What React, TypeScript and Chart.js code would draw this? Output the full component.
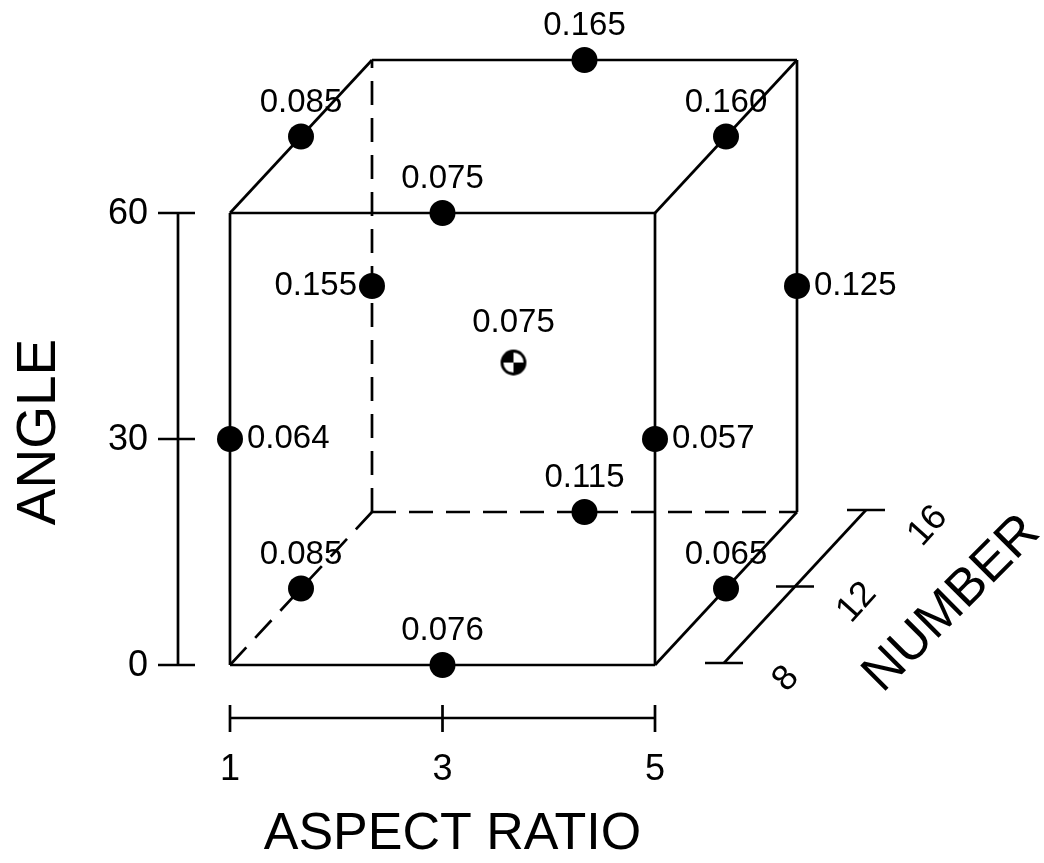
import React, { useEffect, useRef } from "react";
import { Chart, registerables } from "chart.js";

Chart.register(...registerables);

// ---- Axis tick values ----
const aspectRatioTicks = [1, 3, 5];
const angleTicks = [0, 30, 60];
const numberTicks = [8, 12, 16];

// ---- Design points (aspect ratio, angle, number) and measured response ----
const pointAspectRatio = [3, 1, 5, 3, 1, 5, 1, 5, 3, 3, 1, 5];
const pointAngle = [0, 30, 30, 60, 0, 0, 60, 60, 0, 60, 30, 30];
const pointNumber = [8, 8, 8, 8, 12, 12, 12, 12, 16, 16, 16, 16];
const pointResponse = [0.076, 0.064, 0.057, 0.075, 0.085, 0.065, 0.085, 0.16, 0.115, 0.165, 0.155, 0.125];
const labelSide = ["top", "right", "right", "top", "top", "top", "top", "top", "top", "top", "left", "right"];

// ---- Center point ----
const centerAspectRatio = [3];
const centerAngle = [30];
const centerNumber = [12];
const centerResponse = [0.075];

// ---- Axis titles ----
const titleAngle = "ANGLE";
const titleAspect = "ASPECT RATIO";
const titleNumber = "NUMBER";

// ---- Layout (oblique projection) ----
const W = 1044;
const H = 863;
const PX_PER_AR = 106.25;
const PX_PER_DEG = 7.533;
const ORIGIN_PX = 230; // pixel x of aspect ratio 1
const ORIGIN_PY = 665; // pixel y of angle 0
const DEPTH_PX_X = 142;
const DEPTH_PX_Y = 153;
const FONT = '"Liberation Sans", Arial, Helvetica, sans-serif';
const LABEL_SIZE = 33;
const TICK_SIZE = 36;

const X_MIN = aspectRatioTicks[0] - ORIGIN_PX / PX_PER_AR;
const X_MAX = X_MIN + W / PX_PER_AR;
const Y_MAX = angleTicks[0] + ORIGIN_PY / PX_PER_DEG;
const Y_MIN = Y_MAX - H / PX_PER_DEG;

const nMin = numberTicks[0];
const nMax = numberTicks[numberTicks.length - 1];
const arMin = aspectRatioTicks[0];
const arMax = aspectRatioTicks[aspectRatioTicks.length - 1];
const angMin = angleTicks[0];
const angMax = angleTicks[angleTicks.length - 1];

function project(ar: number, ang: number, n: number) {
  const t = (n - nMin) / (nMax - nMin);
  return { x: ar + (t * DEPTH_PX_X) / PX_PER_AR, y: ang + (t * DEPTH_PX_Y) / PX_PER_DEG };
}

function edge(a: number[], b: number[], dashed: boolean) {
  return {
    data: [project(a[0], a[1], a[2]), project(b[0], b[1], b[2])],
    showLine: true,
    borderColor: "#000",
    borderWidth: 2.7,
    borderDash: dashed ? [24, 13] : [],
    pointRadius: 0,
    order: 10,
  };
}

function makeCenterSymbol() {
  const c = document.createElement("canvas");
  c.width = 30;
  c.height = 30;
  const g = c.getContext("2d")!;
  const cx = 15, cy = 15, r = 12;
  g.fillStyle = "#fff";
  g.beginPath();
  g.arc(cx, cy, r, 0, 2 * Math.PI);
  g.fill();
  g.fillStyle = "#000";
  g.beginPath();
  g.moveTo(cx, cy);
  g.arc(cx, cy, r, Math.PI, 1.5 * Math.PI);
  g.closePath();
  g.fill();
  g.beginPath();
  g.moveTo(cx, cy);
  g.arc(cx, cy, r, 0, 0.5 * Math.PI);
  g.closePath();
  g.fill();
  g.lineWidth = 2.8;
  g.strokeStyle = "#000";
  g.beginPath();
  g.arc(cx, cy, r - 0.5, 0, 2 * Math.PI);
  g.stroke();
  return c;
}

const decorPlugin = {
  id: "decor",
  afterDatasetsDraw(chart: any) {
    const { ctx } = chart;
    const xs = chart.scales.x;
    const ys = chart.scales.y;
    const P = (ar: number, ang: number, n: number) => {
      const p = project(ar, ang, n);
      return [xs.getPixelForValue(p.x), ys.getPixelForValue(p.y)];
    };
    const line = (x1: number, y1: number, x2: number, y2: number) => {
      ctx.beginPath();
      ctx.moveTo(x1, y1);
      ctx.lineTo(x2, y2);
      ctx.stroke();
    };
    const text = (s: string, x: number, y: number, size: number, align: string, rot = 0) => {
      ctx.save();
      ctx.translate(x, y);
      ctx.rotate((rot * Math.PI) / 180);
      ctx.font = `${size}px ${FONT}`;
      ctx.textAlign = align;
      ctx.textBaseline = "middle";
      ctx.fillText(s, 0, 0);
      ctx.restore();
    };
    ctx.save();
    ctx.strokeStyle = "#000";
    ctx.fillStyle = "#000";
    ctx.lineWidth = 2.7;

    // Angle axis
    const [fx0, fy0] = P(arMin, angMin, nMin);
    const [, fyTop] = P(arMin, angMax, nMin);
    const axX = fx0 - 52;
    line(axX, fy0, axX, fyTop);
    angleTicks.forEach((a) => {
      const [, py] = P(arMin, a, nMin);
      line(axX - 20, py, axX + 17, py);
      text(String(a), axX - 30, py + 1, TICK_SIZE, "right");
    });
    text(titleAngle, 40, (fy0 + fyTop) / 2 - 7, 55, "center", -90);

    // Aspect ratio axis
    const axY = fy0 + 53;
    const [fxR] = P(arMax, angMin, nMin);
    line(fx0, axY, fxR, axY);
    aspectRatioTicks.forEach((ar) => {
      const [px] = P(ar, angMin, nMin);
      line(px, axY - 13, px, axY + 14);
      text(String(ar), px, axY + 52, TICK_SIZE, "center");
    });
    text(titleAspect, (fx0 + fxR) / 2 + 10, axY + 117, 52, "center");

    // Number axis
    const [b0x, b0y] = P(arMax, angMin, nMin);
    const [b1x, b1y] = P(arMax, angMin, nMax);
    const ox = 69, oy = -2;
    line(b0x + ox, b0y + oy, b1x + ox, b1y + oy);
    numberTicks.forEach((n) => {
      const [px, py] = P(arMax, angMin, n);
      line(px + ox - 19, py + oy, px + ox + 19, py + oy);
      text(String(n), px + ox + 62, py + oy + 16, TICK_SIZE, "center", -48);
    });
    text(titleNumber, 952, 604, 52, "center", -45);

    // Point labels
    const lab = (v: number, px: number, py: number, side: string) => {
      const s = v.toFixed(3);
      if (side === "top") text(s, px, py - 34, LABEL_SIZE, "center");
      else if (side === "right") text(s, px + 17, py, LABEL_SIZE, "left");
      else text(s, px - 15, py, LABEL_SIZE, "right");
    };
    pointResponse.forEach((v, i) => {
      const [px, py] = P(pointAspectRatio[i], pointAngle[i], pointNumber[i]);
      lab(v, px, py, labelSide[i]);
    });
    centerResponse.forEach((v, i) => {
      const [px, py] = P(centerAspectRatio[i], centerAngle[i], centerNumber[i]);
      lab(v, px, py - 6, "top");
    });
    ctx.restore();
  },
};

export default function App() {
  const ref = useRef<HTMLCanvasElement>(null);
  useEffect(() => {
    if (!ref.current) return;
    const c = (a: number, g: number, n: number) => [a, g, n];
    const edges = [
      // front face
      edge(c(arMin, angMin, nMin), c(arMax, angMin, nMin), false),
      edge(c(arMin, angMax, nMin), c(arMax, angMax, nMin), false),
      edge(c(arMin, angMin, nMin), c(arMin, angMax, nMin), false),
      edge(c(arMax, angMin, nMin), c(arMax, angMax, nMin), false),
      // back visible
      edge(c(arMin, angMax, nMax), c(arMax, angMax, nMax), false),
      edge(c(arMax, angMin, nMax), c(arMax, angMax, nMax), false),
      // depth visible
      edge(c(arMin, angMax, nMin), c(arMin, angMax, nMax), false),
      edge(c(arMax, angMax, nMin), c(arMax, angMax, nMax), false),
      edge(c(arMax, angMin, nMin), c(arMax, angMin, nMax), false),
      // hidden
      edge(c(arMin, angMin, nMax), c(arMax, angMin, nMax), true),
      edge(c(arMin, angMin, nMax), c(arMin, angMax, nMax), true),
      edge(c(arMin, angMin, nMin), c(arMin, angMin, nMax), true),
    ];
    const pts = pointResponse.map((_, i) => project(pointAspectRatio[i], pointAngle[i], pointNumber[i]));
    const ctr = centerResponse.map((_, i) => project(centerAspectRatio[i], centerAngle[i], centerNumber[i]));
    const chart = new Chart(ref.current, {
      type: "scatter",
      data: {
        datasets: [
          {
            data: pts,
            pointRadius: 13,
            pointBackgroundColor: "#000",
            pointBorderWidth: 0,
            order: 1,
          } as any,
          {
            data: ctr,
            pointStyle: makeCenterSymbol(),
            pointRadius: 13,
            order: 0,
          } as any,
          ...(edges as any[]),
        ],
      },
      options: {
        animation: false,
        responsive: false,
        events: [],
        layout: { padding: 0, autoPadding: false },
        plugins: { legend: { display: false }, tooltip: { enabled: false }, title: { display: false } },
        scales: {
          x: { type: "linear", min: X_MIN, max: X_MAX, display: false },
          y: { type: "linear", min: Y_MIN, max: Y_MAX, display: false },
        },
      },
      plugins: [decorPlugin],
    } as any);
    return () => chart.destroy();
  }, []);
  return (
    <div style={{ position: "fixed", left: 0, top: 0, width: W, height: H, background: "#fff" }}>
      <canvas ref={ref} width={W} height={H} style={{ display: "block" }} />
    </div>
  );
}
